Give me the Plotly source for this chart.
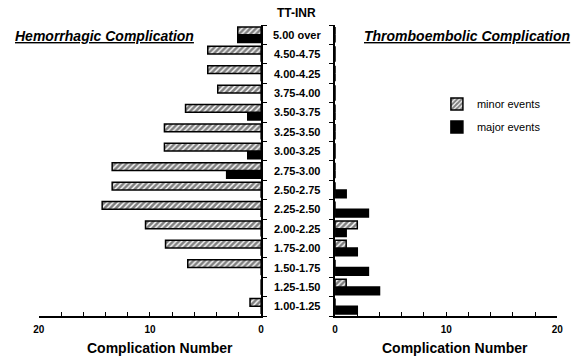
import plotly.graph_objects as go

# ---------------- data ----------------
categories = ["1.00-1.25", "1.25-1.50", "1.50-1.75", "1.75-2.00", "2.00-2.25",
              "2.25-2.50", "2.50-2.75", "2.75-3.00", "3.00-3.25", "3.25-3.50",
              "3.50-3.75", "3.75-4.00", "4.00-4.25", "4.50-4.75", "5.00 over"]
hem_minor = [1.0, 0, 6.6, 8.6, 10.4, 14.3, 13.4, 13.4, 8.7, 8.7, 6.8, 3.9, 4.8, 4.8, 2.1]
hem_major = [0, 0, 0, 0, 0, 0, 0, 3.1, 1.2, 0, 1.2, 0, 0, 0, 2.1]
thr_minor = [0, 1, 0, 1, 2, 0, 0, 0, 0, 0, 0, 0, 0, 0, 0]
thr_major = [2, 4, 3, 2, 1, 3, 1, 0, 0, 0, 0, 0, 0, 0, 0]
x_tick_vals = [0, 2, 4, 6, 8, 10, 12, 14, 16, 18, 20]
x_tick_text = ["0", "", "", "", "", "10", "", "", "", "", "20"]
y_title = "TT-INR"
left_title = "Hemorrhagic Complication"
right_title = "Thromboembolic Complication"
axis_title = "Complication Number"

W, H = 581, 360
FONT = "Liberation Sans, Arial, Helvetica, sans-serif"


def px(x):
    return x / W


def py(y):
    return 1 - y / H


ypos = list(range(len(categories)))
y_bounds = [i - 0.5 for i in range(len(categories) + 1)]

minor_marker = dict(color="white",
                    pattern=dict(shape="/", fgcolor="black", bgcolor="white",
                                 size=4, solidity=0.65),
                    line=dict(color="black", width=1.5))
major_marker = dict(color="black", line=dict(color="black", width=1.5))

fig = go.Figure()
# major first -> lower slot, minor second -> upper slot
fig.add_trace(go.Bar(x=hem_major, y=ypos, orientation="h", xaxis="x", yaxis="y",
                     marker=major_marker, name="major events", legend="legend2"))
fig.add_trace(go.Bar(x=hem_minor, y=ypos, orientation="h", xaxis="x", yaxis="y",
                     marker=minor_marker, name="minor events", legend="legend"))
fig.add_trace(go.Bar(x=thr_major, y=ypos, orientation="h", xaxis="x2", yaxis="y2",
                     marker=major_marker, name="major events", showlegend=False))
fig.add_trace(go.Bar(x=thr_minor, y=ypos, orientation="h", xaxis="x2", yaxis="y2",
                     marker=minor_marker, name="minor events", showlegend=False))

xcommon = dict(showline=True, linecolor="black", linewidth=1.5, ticks="inside",
               ticklen=4, tickwidth=1.2, tickcolor="black",
               tickvals=x_tick_vals, ticktext=x_tick_text, ticklabelstandoff=3,
               tickfont=dict(family=FONT, size=10, color="black", weight="bold"),
               showgrid=False, zeroline=False, fixedrange=True)
ycommon = dict(range=[-0.5, len(categories) - 0.5], showline=True, linecolor="black",
               linewidth=1.5, ticks="outside", ticklen=4, tickwidth=1.2,
               tickcolor="black", tickvals=y_bounds, showticklabels=False,
               showgrid=False, zeroline=False, fixedrange=True,
               domain=[py(316), py(25)])

fig.update_layout(
    width=W, height=H,
    margin=dict(l=0, r=0, t=0, b=0),
    paper_bgcolor="white", plot_bgcolor="white",
    barmode="group", bargap=0.2, bargroupgap=0,
    font=dict(family=FONT, color="black"),
    xaxis=dict(domain=[px(33.5), px(260.5)], range=[20, 0], anchor="y", **xcommon),
    xaxis2=dict(domain=[px(336), px(563)], range=[0, 20], anchor="y2", **xcommon),
    yaxis=dict(anchor="x", side="right", **ycommon),
    yaxis2=dict(anchor="x2", side="left", **ycommon),
    legend=dict(x=px(440), y=py(104), xanchor="left", yanchor="middle",
                bgcolor="rgba(0,0,0,0)", font=dict(family=FONT, size=11)),
    legend2=dict(x=px(440), y=py(127), xanchor="left", yanchor="middle",
                 bgcolor="rgba(0,0,0,0)", font=dict(family=FONT, size=11)),
)

annotations = []


def add_text(text, x, y, size, yref="paper"):
    annotations.append(dict(text=text, x=x, y=y, xref="paper", yref=yref,
                            xanchor="center", yanchor="middle", showarrow=False,
                            font=dict(family=FONT, size=size, color="black")))


add_text("<b>" + y_title + "</b>", px(297), py(13), 12)
for i, c in enumerate(categories):
    add_text("<b>" + c + "</b>", px(297), i, 11, yref="y")
add_text("<b><i><u>" + left_title + "</u></i></b>", px(101), py(36), 14)
add_text("<b><i><u>" + right_title + "</u></i></b>", px(471), py(36), 14)
add_text("<b>" + axis_title + "</b>", px(157), py(348), 14)
add_text("<b>" + axis_title + "</b>", px(458), py(348), 14)
fig.update_layout(annotations=annotations)

fig.write_html("out.html")
